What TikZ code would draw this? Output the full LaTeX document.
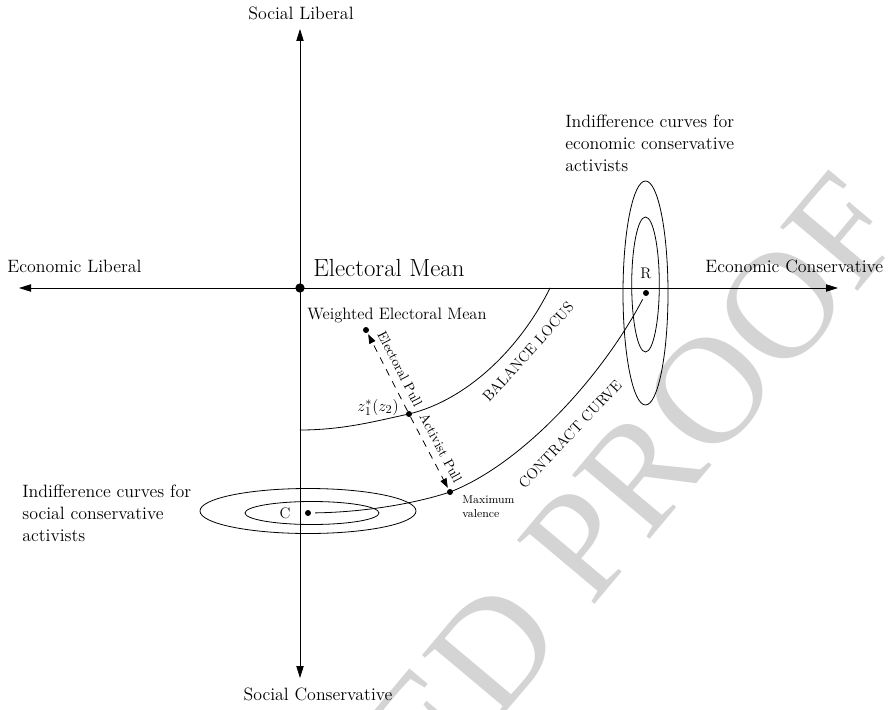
\documentclass[tikz,border=0pt]{standalone}
\usepackage{amsmath,amssymb}
\usepackage{fontspec}
\usepackage{tikz}
\usetikzlibrary{arrows.meta}
\usepackage{xcolor}
\newfontfamily\proofface{Liberation Serif}

\begin{document}
\begin{tikzpicture}[x=0.75pt,y=-0.75pt,>={Triangle[length=9pt,width=5.5pt]},line cap=round,line width=0.6pt,
  dot/.style={circle,fill,inner sep=0pt,minimum size=4.5pt},
  bigdot/.style={circle,fill,inner sep=0pt,minimum size=7pt},
  lbl/.style={inner sep=0pt,font=\fontsize{13.4}{16.5}\selectfont},
  curvelbl/.style={inner sep=0pt,font=\fontsize{11.2}{13}\selectfont},
  pulllbl/.style={inner sep=0pt,font=\fontsize{10.2}{12}\selectfont},
  pull/.style={->,>={Triangle[length=7pt,width=5pt]},dash pattern=on 5pt off 5pt,shorten >=1pt}]
\useasboundingbox (0,0) rectangle (892,710);
% proof watermark
\node[rotate=50,anchor=base east,inner sep=0pt,text=black!17,font=\proofface\fontsize{115}{115}\selectfont] (proof) at (910,230) {UNCORRECTED PROOF};
% axes
\coordinate (elib) at (19,288);
\coordinate (econ) at (838,288);
\coordinate (slib) at (300,29);
\coordinate (scon) at (300,678);
\draw[<->] (elib) -- (econ);
\draw[<->] (scon) -- (slib);
\node[lbl,anchor=base] (sliblbl) at (301,20) {Social Liberal};
\node[lbl,anchor=base] (sconlbl) at (318,700) {Social Conservative};
\node[lbl,anchor=base west] (eliblbl) at (7,272) {Economic Liberal};
\node[lbl,anchor=base west] (econlbl) at (705,272) {Economic Conservative};
% means
\node[bigdot] (EM) at (300,288) {};
\node[inner sep=0pt,anchor=base west,font=\fontsize{18.6}{21}\selectfont] (EMlbl) at (313,276) {Electoral Mean};
\node[dot] (WM) at (366,330) {};
\node[inner sep=0pt,anchor=base west,font=\fontsize{12.4}{14}\selectfont] (WMlbl) at (307,319) {Weighted Electoral Mean};
\node[dot] (Z) at (409,414) {};
\node[inner sep=0pt,anchor=base east,font=\fontsize{12.5}{14}\selectfont] (Zlbl) at (399,411) {$z_1^*(z_2)$};
\node[dot] (MV) at (450,492) {};
\node[inner sep=0pt,anchor=north west,align=left,font=\fontsize{8.6}{10.5}\selectfont] (MVlbl) at (462,495) {Maximum\\valence};
% activists
\node[dot] (C) at (308,513) {};
\node[inner sep=0pt,font=\fontsize{11.5}{13}\selectfont] (Clbl) at (285,513) {C};
\draw (308,511) ellipse [x radius=108,y radius=22.5];
\draw (312,513) ellipse [x radius=67,y radius=11.5];
\node[dot] (R) at (646,293) {};
\node[inner sep=0pt,font=\fontsize{11.5}{13}\selectfont] (Rlbl) at (646,273) {R};
\draw (645.5,293) ellipse [x radius=22.5,y radius=112];
\draw (645.5,284.5) ellipse [x radius=13.8,y radius=67.5];
\node[lbl,anchor=north west,align=left] (Ctxt) at (22,485) {Indifference curves for\\social conservative\\activists};
\node[lbl,anchor=north west,align=left] (Rtxt) at (565,114.5) {Indifference curves for\\economic conservative\\activists};
% balance locus and contract curve
\draw (300,430) .. controls (345,430) and (380,420) .. (Z.center) .. controls (470,399) and (522,345) .. (550,288);
\node[curvelbl,rotate=48] (BLlbl) at (528,352) {BALANCE LOCUS};
\draw[shorten <=3pt,shorten >=3pt] (C) .. controls (370,512) and (420,502) .. (MV.center) .. controls (520,465) and (600,380) .. (R);
\node[curvelbl,rotate=46.6] (CClbl) at (570,434) {CONTRACT CURVE};
% pulls
\draw[pull] (Z) -- (WM);
\draw[pull] (Z) -- (MV);
\node[pulllbl,rotate=-63] (EPlbl) at (400,369) {Electoral Pull};
\node[pulllbl,rotate=-62] (APlbl) at (441,448) {Activist Pull};
\end{tikzpicture}
\end{document}
